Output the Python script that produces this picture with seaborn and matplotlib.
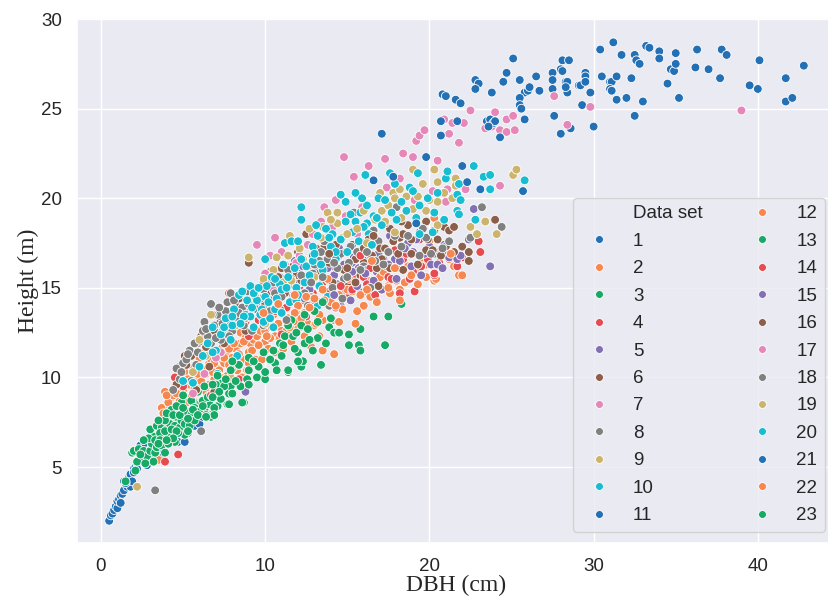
import pandas as pd
import matplotlib
matplotlib.use("Agg")
import matplotlib.pyplot as plt
import seaborn as sns
from matplotlib.lines import Line2D

# -------------------------------
# Data: (DBH cm, Height m) per data set
# -------------------------------
set01 = [(0.5, 2.0), (0.6, 2.3), (0.7, 2.4), (0.8, 2.6), (0.9, 2.8), (1.0, 2.7), (1.0, 3.1), (1.1, 3.2),
         (1.2, 3.4), (1.3, 3.5), (1.4, 3.7), (1.4, 4.2), (1.6, 3.9), (1.7, 4.4), (1.8, 3.9), (1.8, 4.6),
         (1.9, 4.2), (2.0, 4.9), (2.1, 5.0), (2.2, 5.2), (2.3, 5.4), (2.4, 5.6), (2.4, 6.2), (2.5, 5.5),
         (2.6, 6.0), (2.7, 6.3), (2.8, 5.1), (2.9, 5.9), (3.0, 5.4), (3.2, 5.4), (3.3, 6.6), (3.5, 5.8),
         (3.7, 5.7), (3.9, 6.6), (4.2, 6.4), (4.5, 6.6), (4.7, 6.4), (5.1, 6.4), (5.3, 6.9), (5.7, 7.3),
         (6.0, 7.4), (6.2, 7.8), (1.5, 4.1), (1.2, 3.0), (2.0, 4.7), (2.2, 4.9), (3.1, 6.2), (3.4, 5.9)]
set02 = [(3.5, 5.4), (3.7, 8.3), (3.9, 9.2), (4.2, 8.4), (4.0, 7.6), (4.3, 8.9), (4.5, 8.0), (4.7, 9.5),
         (4.8, 8.7), (5.0, 9.3), (5.1, 10.3), (5.2, 8.6), (5.4, 9.6), (5.5, 9.0), (5.6, 10.1), (5.8, 9.9),
         (5.8, 8.6), (6.0, 11.1), (6.0, 9.4), (6.2, 10.5), (6.4, 10.2), (6.4, 9.2), (6.6, 10.8), (6.7, 11.0),
         (6.9, 9.9), (7.0, 10.6), (7.2, 10.4), (7.3, 11.0), (7.4, 11.7), (7.6, 11.4), (7.7, 10.1), (7.9, 12.0),
         (8.0, 11.1), (8.2, 11.6), (8.2, 10.8), (8.3, 10.4), (8.5, 11.9), (8.5, 12.5), (8.7, 11.0), (8.8, 12.2),
         (9.0, 12.6), (9.0, 11.4), (9.1, 11.9), (9.3, 12.1), (9.4, 12.5), (9.4, 11.0), (9.5, 12.3), (9.7, 12.6),
         (10.0, 12.6), (10.0, 12.0), (10.2, 11.6), (10.4, 12.8), (10.6, 12.3), (10.6, 11.4), (10.8, 13.0),
         (11.0, 12.6), (11.3, 12.6), (11.4, 13.3), (11.6, 12.0), (11.9, 13.1), (12.1, 13.5), (12.4, 12.3),
         (12.9, 13.8), (13.2, 13.2), (13.3, 12.3), (13.5, 13.2), (14.1, 13.2), (14.2, 11.3), (13.5, 11.5),
         (12.8, 11.7), (7.0, 9.1), (6.6, 9.6), (5.3, 8.1), (4.6, 7.7), (8.6, 10.0), (9.8, 11.0), (11.1, 11.6),
         (7.5, 10.8), (8.9, 10.4), (10.3, 12.2), (6.3, 11.4), (5.6, 10.5), (9.9, 13.2), (10.5, 13.5), (7.8, 11.6),
         (3.8, 8.0), (4.1, 8.6), (4.4, 9.0), (4.0, 9.0), (4.6, 9.1), (4.9, 9.8), (5.3, 9.9), (5.7, 9.4),
         (6.1, 9.8), (6.5, 10.5), (6.8, 10.3), (7.1, 11.2), (7.5, 11.1), (7.8, 10.7), (8.1, 11.9), (8.4, 11.3),
         (8.7, 12.0), (9.2, 11.5), (9.6, 11.8), (10.1, 12.3), (10.9, 12.2), (11.5, 12.8), (12.0, 12.7),
         (12.6, 13.0), (13.0, 12.9), (5.9, 10.2), (6.9, 10.8), (7.3, 10.0), (8.0, 10.5), (9.0, 10.8)]
set03 = [(1.5, 4.2), (1.9, 5.8), (2.1, 4.8), (2.2, 5.3), (2.0, 5.9), (2.3, 6.0), (2.6, 5.9), (2.8, 5.6),
         (3.0, 5.9), (3.3, 5.8), (3.1, 6.3), (3.4, 6.1), (3.7, 6.2), (3.9, 5.8), (3.8, 6.7), (3.2, 6.7),
         (3.0, 7.1), (3.4, 7.3), (3.7, 7.2), (4.0, 7.1), (4.2, 6.8), (4.5, 6.4), (4.1, 6.3), (4.2, 7.4),
         (4.5, 7.3), (4.8, 7.2), (5.1, 6.8), (4.6, 7.8), (4.9, 7.6), (5.1, 7.4), (5.4, 7.3), (5.2, 8.1),
         (5.5, 7.9), (5.7, 7.6), (5.8, 8.5), (6.1, 8.6), (6.3, 8.2), (6.6, 8.5), (6.7, 7.9), (4.9, 8.6),
         (4.3, 8.2), (3.9, 7.6), (3.5, 7.6), (2.9, 6.6), (2.6, 6.5), (2.4, 5.7), (5.0, 9.0), (5.5, 8.7),
         (5.7, 8.3), (6.0, 8.1), (6.2, 8.7), (6.4, 7.9), (6.7, 7.8), (6.6, 9.0), (7.1, 8.4), (7.4, 9.7),
         (7.7, 8.5), (7.8, 9.1), (7.9, 9.5), (4.0, 8.0), (4.4, 7.9), (3.6, 6.9), (4.7, 6.9), (5.3, 7.0),
         (3.2, 5.3), (2.7, 5.2), (5.9, 9.2), (6.3, 9.5), (4.6, 8.4),
         (3.3, 6.5), (3.6, 6.5), (3.9, 7.0), (4.3, 7.1), (4.6, 7.0), (4.8, 7.9), (5.0, 8.3), (5.3, 7.7),
         (5.6, 8.2), (5.9, 7.9), (6.2, 8.4), (6.5, 8.9), (6.9, 8.3), (7.3, 8.8), (7.0, 9.6), (4.4, 6.6),
         (3.5, 6.3), (4.0, 6.5)]
set04 = [(3.9, 5.3), (4.7, 5.7), (4.5, 10.0), (7.8, 14.7), (8.4, 9.9), (9.9, 15.3), (10.2, 15.2), (10.6, 13.7),
         (11.0, 12.4), (12.1, 15.1), (12.5, 13.4), (13.3, 14.2), (13.9, 14.8), (14.3, 13.9), (15.0, 14.5),
         (6.7, 9.0), (5.0, 9.5), (9.0, 12.3), (11.6, 14.3), (8.8, 13.1),
         (10.5, 14.4), (11.3, 13.9), (12.3, 14.3), (12.9, 14.7), (13.5, 15.3), (14.1, 15.6), (14.7, 14.8),
         (15.5, 15.6), (16.1, 14.8), (9.6, 13.2)]
set05 = [(8.8, 9.2), (10.1, 14.6), (10.6, 15.9), (10.9, 15.6), (11.3, 14.9), (11.6, 15.2), (12.0, 15.8),
         (12.3, 16.2), (12.7, 14.9), (13.2, 16.0), (13.6, 16.5), (14.1, 16.2), (14.4, 15.2), (14.6, 14.0),
         (14.8, 16.3), (14.5, 17.2), (15.0, 15.7), (15.4, 16.7), (15.9, 17.5), (16.2, 15.1), (16.8, 15.9),
         (17.2, 16.6), (12.4, 14.4), (13.9, 15.4), (11.8, 16.5), (15.7, 14.8), (9.7, 14.1), (10.8, 14.2),
         (15.2, 14.3), (13.1, 17.0),
         (11.0, 15.0), (11.5, 15.8), (12.1, 15.3), (12.8, 15.5), (13.4, 15.7), (13.8, 16.1), (14.2, 15.7),
         (14.9, 15.1), (15.3, 16.4), (15.7, 16.1), (16.1, 16.5), (16.6, 16.2), (17.0, 17.3), (12.9, 14.3),
         (11.7, 14.6)]
set06 = [(4.6, 9.6), (5.1, 11.2), (5.2, 10.7), (5.5, 11.2), (5.8, 9.3), (6.1, 12.3), (6.4, 11.7), (6.9, 9.2),
         (6.9, 12.6), (7.2, 13.0), (7.5, 11.9), (7.9, 13.6), (8.2, 14.0), (8.5, 13.1), (9.0, 14.5), (9.0, 16.4),
         (9.4, 14.9), (9.8, 13.4), (10.3, 15.9), (10.8, 15.6), (11.2, 14.7), (11.7, 16.2), (12.2, 15.4),
         (12.5, 18.0), (12.9, 16.8), (13.3, 15.8), (13.6, 17.3), (14.1, 15.3), (14.5, 16.8), (14.9, 17.0),
         (15.1, 15.2), (15.5, 16.6), (16.0, 16.4), (6.6, 10.6), (7.6, 12.6), (8.8, 12.6), (10.1, 14.7),
         (11.0, 16.1), (12.0, 17.0),
         (4.8, 10.6), (5.4, 11.5), (5.9, 11.9), (6.3, 12.2), (6.8, 12.1), (7.3, 13.4), (7.8, 13.1),
         (8.4, 14.4), (8.9, 13.9), (9.5, 14.2), (10.0, 14.1), (10.6, 14.9), (11.4, 15.3), (11.9, 15.7),
         (12.6, 16.2), (13.1, 17.2), (13.9, 16.4), (14.3, 17.4), (14.8, 16.0), (15.3, 17.4), (15.8, 15.7),
         (16.3, 16.0)]
set07 = [(5.6, 9.1), (6.3, 10.2), (7.3, 11.4), (7.8, 12.3), (8.1, 14.4), (8.9, 13.7), (9.5, 17.4), (10.0, 15.8),
         (10.6, 17.8), (11.2, 16.3), (11.6, 15.2), (12.1, 16.8), (12.6, 17.4), (13.4, 18.7), (13.9, 17.9),
         (14.3, 19.9), (14.8, 22.3), (14.9, 19.0), (15.4, 21.2), (15.6, 18.0), (16.3, 21.8), (9.1, 14.6),
         (10.5, 14.9), (11.9, 16.4),
         (12.9, 18.0), (13.6, 19.5), (10.3, 16.8), (11.0, 17.0), (8.4, 13.2), (7.0, 11.1), (15.9, 19.5),
         (14.1, 18.4)]
set08 = [(3.3, 3.7), (4.4, 9.3), (4.6, 10.5), (4.8, 9.9), (5.0, 10.8), (5.2, 11.0), (5.4, 11.5), (5.8, 10.7),
         (5.9, 11.4), (6.0, 12.0), (6.1, 7.0), (6.3, 13.1), (6.5, 12.3), (6.7, 14.1), (6.7, 11.9), (6.9, 12.9),
         (7.1, 13.5), (7.3, 12.1), (7.4, 13.0), (7.6, 13.7), (7.9, 14.7), (8.0, 12.6), (8.3, 13.2), (8.6, 13.9),
         (9.0, 14.1), (9.2, 12.6), (9.5, 13.8), (9.7, 14.4), (9.9, 12.9), (10.3, 13.7), (10.6, 14.7),
         (10.9, 13.8), (11.4, 16.0), (11.8, 14.6), (12.2, 15.7), (12.6, 14.0), (13.0, 16.3), (13.4, 17.0),
         (13.6, 17.6), (13.9, 14.0), (14.1, 15.0), (14.4, 16.1), (14.8, 15.5), (15.2, 17.3), (15.4, 19.2),
         (16.0, 16.2), (16.6, 18.2), (16.9, 17.6), (6.2, 12.6), (7.8, 12.3), (8.7, 12.9), (5.5, 9.8), (7.0, 12.2),
         (4.9, 10.3), (5.3, 11.3), (5.7, 11.9), (6.4, 12.7), (6.8, 13.5), (7.2, 13.9), (7.7, 14.2), (8.1, 14.3),
         (8.4, 13.6), (8.9, 14.8), (9.3, 15.0), (9.9, 14.9), (10.5, 15.3), (11.0, 14.5), (11.6, 15.5),
         (12.4, 14.7), (12.9, 15.8), (13.3, 16.5), (13.8, 16.6), (14.6, 16.9), (15.1, 16.4), (15.6, 17.0)]
set09 = [(2.2, 3.9), (6.0, 12.1), (6.7, 13.5), (7.9, 10.0), (9.0, 16.7), (9.4, 14.5), (10.0, 13.0), (11.1, 15.3),
         (11.5, 17.9), (11.6, 15.4), (12.3, 16.6), (12.8, 14.5), (13.4, 17.8), (13.8, 19.2), (14.4, 19.2),
         (14.4, 18.6), (14.7, 17.8), (13.0, 15.6), (10.5, 16.0), (8.2, 12.9), (5.6, 10.3),
         (9.9, 15.5), (11.4, 16.8), (12.1, 17.2), (12.7, 18.3), (13.5, 18.4), (14.0, 18.8), (10.7, 16.7),
         (8.8, 13.3), (7.4, 12.6), (6.4, 11.2)]
set10 = [(5.0, 9.8), (5.6, 9.7), (6.0, 10.6), (6.2, 11.2), (6.5, 11.9), (6.8, 12.8), (7.3, 12.4), (7.5, 12.8),
         (7.0, 11.5), (7.6, 13.3), (8.1, 13.8), (8.4, 14.6), (8.6, 14.8), (8.8, 13.5), (9.1, 13.4), (9.1, 15.1),
         (9.7, 13.5), (9.8, 13.8), (10.0, 14.5), (10.1, 15.1), (10.0, 16.6), (10.6, 13.8), (10.9, 15.2),
         (11.2, 17.5), (11.5, 14.2), (11.6, 17.6), (12.0, 17.6), (12.2, 18.8), (12.2, 19.5), (12.4, 15.3),
         (12.5, 16.2), (12.9, 17.3), (13.1, 18.5), (13.2, 14.0), (13.2, 17.9), (13.7, 18.3), (14.0, 17.3),
         (14.1, 18.0), (13.8, 14.5), (14.6, 20.2), (14.9, 19.8), (14.9, 18.7), (15.2, 19.1), (15.5, 18.7),
         (15.8, 19.2), (16.1, 21.3), (16.2, 18.6), (16.3, 18.0), (16.4, 15.2), (16.6, 19.0), (16.2, 16.0),
         (8.0, 12.9), (8.7, 13.4), (9.5, 14.3), (10.4, 15.6), (11.0, 14.9), (11.8, 16.1), (10.5, 12.8),
         (9.3, 12.8), (7.9, 12.1), (6.8, 11.4), (11.4, 15.6), (12.9, 16.5), (13.5, 16.0), (14.3, 16.6),
         (15.0, 17.0), (13.3, 15.1), (11.9, 14.3), (9.9, 13.1), (10.7, 14.4), (7.1, 10.2), (8.3, 11.2),
         (8.0, 13.4), (8.5, 13.0), (8.9, 14.3), (9.3, 14.7), (9.6, 15.0), (10.2, 14.2), (10.6, 15.5),
         (11.1, 16.3), (11.3, 15.0), (11.9, 15.0), (12.2, 16.6), (12.7, 15.7), (13.0, 16.9), (13.4, 16.3),
         (13.9, 17.8), (14.3, 17.0), (14.6, 17.7), (15.3, 18.1), (15.7, 17.6), (16.0, 18.4), (9.2, 13.9),
         (10.3, 13.3), (11.0, 13.6), (12.0, 14.6)]
set11 = [(20.8, 25.8), (21.0, 25.7), (21.6, 25.5), (21.9, 25.3), (22.8, 26.6), (23.0, 26.4), (22.8, 26.1),
         (23.8, 25.9), (24.5, 26.5), (24.7, 27.0), (25.1, 27.8), (25.5, 26.6), (25.8, 25.9), (26.0, 26.0),
         (26.1, 26.2), (26.5, 26.8), (26.7, 26.0), (25.5, 25.6), (25.5, 25.2), (25.6, 25.0), (25.8, 24.4),
         (27.5, 27.0), (27.5, 26.6), (27.5, 26.1), (28.1, 27.7), (28.5, 27.7), (28.0, 27.2), (28.1, 27.1),
         (28.3, 26.5), (28.4, 26.5), (28.4, 25.9), (28.3, 26.2), (27.6, 24.6), (28.0, 23.6), (28.6, 23.9),
         (29.1, 26.3), (29.2, 26.3), (29.5, 27.0), (29.5, 26.8), (29.5, 26.5), (29.8, 25.9), (29.3, 25.2),
         (30.0, 24.0), (30.4, 28.3), (30.5, 26.8), (31.2, 28.7), (31.0, 26.5), (31.1, 26.5), (31.4, 26.8),
         (31.0, 26.1), (31.1, 26.0), (31.4, 25.5), (31.7, 28.0), (32.0, 25.6), (32.3, 26.7), (32.5, 28.0),
         (32.6, 27.7), (32.8, 27.5), (32.5, 24.6), (33.0, 25.4), (33.2, 28.5), (33.4, 28.4), (34.0, 28.2),
         (34.0, 27.8), (34.5, 26.4), (34.7, 27.2), (34.9, 27.1), (35.0, 27.5), (35.0, 28.1), (35.2, 25.6),
         (36.3, 28.3), (36.2, 27.3), (37.0, 27.2), (37.7, 26.7), (37.8, 28.3), (38.1, 28.0), (39.5, 26.3),
         (40.0, 26.1), (40.1, 27.7), (41.7, 26.7), (41.7, 25.4), (42.1, 25.6), (42.8, 27.4)]
set12 = [(12.0, 14.0), (12.5, 14.5), (13.0, 14.4), (13.5, 14.9), (13.8, 15.5), (14.0, 14.2), (14.5, 14.6),
         (15.0, 14.9), (15.3, 14.8), (15.5, 15.3), (16.0, 14.0), (16.4, 14.5), (16.8, 14.2), (17.0, 15.6),
         (17.5, 15.1), (18.0, 15.4), (18.2, 14.9), (18.2, 14.4), (18.7, 16.2), (19.0, 16.9), (19.5, 16.4),
         (20.0, 17.6), (20.3, 18.9), (20.3, 15.4), (20.4, 15.5), (20.6, 17.0), (21.2, 16.6), (21.5, 16.2),
         (21.8, 15.7), (22.0, 15.7), (12.2, 13.3), (13.3, 13.5), (14.7, 13.8), (15.6, 13.7), (17.2, 15.9),
         (19.8, 16.3),
         (12.4, 13.6), (13.6, 14.3), (14.3, 14.0), (15.1, 15.5), (15.8, 14.6), (16.3, 15.4), (16.9, 15.1),
         (17.6, 14.7), (18.5, 15.3), (19.2, 15.9), (19.8, 15.6), (11.8, 13.6), (13.1, 13.0)]
set13 = [(9.0, 11.1), (8.4, 10.7), (9.5, 10.0), (10.0, 10.2), (11.4, 10.3), (11.4, 10.4), (10.5, 11.5),
         (10.9, 11.9), (11.2, 12.3), (11.6, 13.2), (11.7, 12.3), (11.9, 12.5), (12.2, 12.9), (12.2, 10.6),
         (12.3, 10.9), (12.4, 11.9), (12.4, 13.5), (12.9, 11.5), (13.0, 13.7), (13.2, 12.2), (13.4, 10.7),
         (13.5, 14.2), (13.9, 12.8), (14.2, 12.5), (14.5, 12.5), (15.1, 11.8), (15.1, 12.4), (15.7, 11.8),
         (15.8, 11.5), (15.8, 12.7), (16.6, 13.4), (17.3, 11.8), (17.5, 13.4), (18.3, 14.1), (12.7, 12.1),
         (9.9, 11.4), (11.0, 11.2), (10.6, 10.8), (12.0, 11.4), (13.7, 11.9),
         (10.3, 11.0), (11.1, 11.8), (11.8, 11.6), (12.6, 12.7), (13.2, 13.1), (14.0, 13.3), (12.0, 10.9),
         (10.7, 10.4), (9.6, 10.6), (11.4, 12.9)]
set14 = [(15.3, 14.9), (16.0, 15.6), (16.4, 16.1), (17.0, 16.7), (17.5, 15.6), (17.7, 15.5), (18.2, 14.7),
         (18.4, 16.6), (19.1, 14.8), (19.4, 17.7), (19.5, 16.2), (20.3, 15.7), (20.3, 15.8), (21.1, 16.9),
         (21.7, 16.2), (22.0, 16.7), (22.4, 17.0), (23.0, 17.6), (23.1, 17.0), (16.7, 14.6), (18.8, 15.5),
         (15.8, 16.8), (14.6, 15.1),
         (16.2, 15.2), (16.9, 16.3), (17.4, 16.2), (18.0, 16.1), (18.6, 16.9), (19.0, 15.9), (19.9, 16.6),
         (20.6, 16.4), (17.9, 17.1)]
set15 = [(17.6, 17.9), (17.9, 16.6), (18.7, 17.5), (18.9, 16.2), (19.5, 15.7), (20.1, 16.3), (20.5, 16.3),
         (20.8, 16.1), (21.2, 16.7), (21.7, 16.6), (21.9, 16.8), (22.7, 19.4), (23.7, 16.2), (16.6, 15.4),
         (17.1, 14.9), (19.2, 17.7), (18.0, 15.5), (20.0, 17.3), (16.4, 16.8), (15.3, 15.9), (14.2, 14.6),
         (22.4, 17.7), (20.9, 17.4),
         (16.9, 16.9), (17.5, 16.3), (18.2, 16.5), (18.5, 17.2), (19.0, 17.0), (19.7, 16.9), (20.3, 16.9),
         (16.1, 15.8), (15.6, 15.1)]
set16 = [(15.5, 15.3), (16.0, 17.2), (16.8, 16.1), (16.9, 15.1), (17.0, 17.2), (17.3, 17.2), (17.6, 16.1),
         (18.2, 17.8), (18.4, 18.0), (18.4, 16.0), (18.7, 18.5), (18.9, 16.9), (19.3, 16.3), (19.8, 17.1),
         (20.2, 17.1), (20.5, 17.7), (20.9, 18.4), (21.2, 18.2), (21.5, 18.4), (22.0, 17.3), (22.4, 17.0),
         (22.4, 16.5), (23.2, 19.5), (24.0, 18.8), (18.6, 19.3), (17.6, 18.3), (19.8, 18.7), (16.3, 17.7),
         (15.0, 16.1), (13.9, 16.9), (20.7, 16.8), (21.5, 17.0),
         (16.5, 16.8), (17.1, 16.6), (17.8, 17.6), (18.1, 16.9), (18.9, 17.7), (19.4, 18.1), (19.9, 17.7),
         (20.3, 18.2), (21.0, 17.3), (16.6, 17.9), (17.3, 18.6), (18.3, 18.7)]
set17 = [(17.3, 22.2), (17.4, 20.6), (18.2, 21.1), (18.4, 22.5), (19.0, 22.3), (19.1, 19.9), (19.2, 23.2),
         (19.4, 23.5), (19.7, 23.8), (20.2, 20.4), (20.5, 22.1), (20.7, 20.3), (20.9, 24.4), (21.0, 19.8),
         (21.1, 20.5), (21.2, 23.6), (21.4, 24.2), (21.7, 19.3), (21.8, 23.1), (22.1, 24.2), (22.2, 20.5),
         (22.5, 24.9), (23.4, 23.9), (23.8, 24.0), (24.0, 24.8), (24.3, 23.8), (24.3, 20.7), (24.7, 23.7),
         (24.7, 24.4), (25.1, 24.6), (25.2, 23.8), (27.6, 25.7), (28.4, 24.1), (29.8, 25.1), (39.0, 24.9)]
set18 = [(17.2, 16.3), (18.0, 19.5), (18.3, 17.3), (19.8, 17.8), (23.2, 19.5), (24.4, 18.4), (20.8, 17.2),
         (17.5, 17.0), (12.8, 15.3), (11.3, 13.2), (15.8, 16.0), (13.5, 15.6), (16.4, 15.0), (19.4, 16.8),
         (21.2, 17.6), (22.5, 17.8), (14.7, 14.4),
         (16.7, 16.5), (17.9, 17.9), (18.7, 17.9), (19.6, 18.3), (20.1, 16.9), (16.2, 17.0), (14.2, 16.4),
         (15.0, 15.6)]
set19 = [(17.1, 19.3), (17.3, 18.7), (17.8, 20.3), (17.9, 18.1), (17.9, 20.0), (18.2, 20.5), (18.6, 19.3),
         (19.0, 21.6), (19.0, 19.4), (19.6, 20.8), (19.8, 19.3), (20.3, 21.6), (20.5, 20.9), (20.5, 18.5),
         (20.5, 19.8), (21.4, 20.0), (21.6, 21.1), (21.6, 20.7), (23.4, 18.7), (24.1, 18.0), (25.1, 21.3),
         (25.3, 21.6), (18.6, 20.1), (16.2, 17.5), (15.6, 18.3), (22.5, 18.4),
         (16.7, 18.8), (17.5, 19.6), (18.3, 18.9), (19.3, 20.1), (20.0, 19.9), (20.9, 20.3), (15.0, 18.0),
         (16.0, 19.3), (17.0, 20.3), (22.9, 18.0)]
set20 = [(16.9, 20.0), (17.1, 18.5), (17.6, 21.4), (18.0, 18.8), (18.3, 19.8), (18.8, 20.6), (19.3, 21.4),
         (19.4, 19.6), (19.4, 18.0), (19.2, 18.9), (20.9, 18.8), (21.0, 21.1), (21.1, 21.5), (21.7, 20.2),
         (21.7, 19.3), (21.8, 20.8), (21.8, 19.1), (21.9, 19.9), (22.7, 21.8), (22.8, 18.8), (23.3, 21.2),
         (23.7, 21.3), (23.7, 20.5), (25.8, 21.0), (15.5, 20.3), (14.6, 20.2), (16.5, 17.4), (20.2, 18.1),
         (16.2, 19.6), (16.8, 18.9), (17.3, 19.9), (17.7, 19.2), (18.6, 19.3), (19.0, 20.4), (19.9, 20.0),
         (20.5, 20.3), (20.3, 19.2), (15.9, 20.0), (17.9, 20.8)]
set21 = [(17.1, 23.6), (17.8, 21.2), (16.6, 21.0), (19.8, 22.3), (22.0, 21.8), (22.3, 20.9), (23.1, 20.5),
         (25.7, 20.4), (19.2, 18.6), (20.7, 23.5), (20.7, 24.3), (21.7, 24.3), (24.3, 23.4), (23.5, 24.3),
         (23.7, 24.4), (23.9, 24.2), (24.0, 24.3), (23.6, 24.0)]
set22 = [(16.8, 14.2), (17.5, 15.0), (18.2, 14.3), (18.9, 15.7), (14.5, 13.1), (15.5, 13.0), (16.2, 14.9),
         (19.3, 15.2), (21.3, 16.9), (17.9, 16.1), (16.5, 16.5), (12.7, 13.9), (11.8, 14.6), (10.8, 14.1),
         (9.9, 13.6)]
set23 = [(8.5, 9.5), (8.7, 8.6), (9.0, 10.4), (8.9, 9.9), (7.5, 9.5), (8.0, 9.1), (8.4, 10.7), (7.9, 10.4),
         (9.5, 10.0), (10.0, 9.9), (10.0, 10.3), (8.6, 8.6), (7.8, 8.5), (6.9, 7.9), (6.4, 7.8), (7.2, 9.2),
         (6.8, 8.9), (7.6, 9.9), (8.2, 9.8), (8.0, 10.9), (7.1, 10.1), (6.8, 9.6), (9.3, 10.9), (9.0, 9.6)]

all_sets = [set01, set02, set03, set04, set05, set06, set07, set08, set09, set10, set11, set12,
            set13, set14, set15, set16, set17, set18, set19, set20, set21, set22, set23]
set_names = [str(i) for i in range(1, 24)]

base_colors = ["#2470b4", "#f5874f", "#16aa66", "#e54b50", "#8270b4",
               "#8c5f4b", "#e687b9", "#808080", "#cdb46e", "#17bed2"]
palette = [base_colors[i % 10] for i in range(23)]

rows = []
for name, pts in zip(set_names, all_sets):
    for d, h in pts:
        rows.append({"DBH": d, "Height": h, "Data set": name})
df = pd.DataFrame(rows)

# -------------------------------
# Plot
# -------------------------------
sns.set_theme(style="darkgrid")
plt.rcParams["font.family"] = ["Liberation Sans", "DejaVu Sans"]

fig = plt.figure(figsize=(8.29, 5.99), dpi=100)
ax = fig.add_axes([77 / 829, 56 / 599, 759 / 829, 525 / 599])

sns.scatterplot(data=df, x="DBH", y="Height", hue="Data set", hue_order=set_names,
                palette=palette, s=40, edgecolor="white", linewidth=0.6, ax=ax)

ax.set_xlim(-1.46, 44.76)
ax.set_ylim(0.76, 30.06)
ax.set_xticks([0, 10, 20, 30, 40])
ax.set_yticks([5, 10, 15, 20, 25, 30])
ax.tick_params(labelsize=13.5, pad=5)

serif = ["Liberation Serif", "DejaVu Serif"]
ax.set_xlabel("DBH (cm)", fontsize=17, family=serif, labelpad=0)
ax.set_ylabel("Height (m)", fontsize=17, family=serif, labelpad=1)

# legend with the hue name as a marker-less first entry
old = ax.get_legend()
handles = list(old.legend_handles)
labels = [t.get_text() for t in old.get_texts()]
old.remove()
blank = Line2D([], [], linestyle="none", marker="")
ax.legend([blank] + handles, ["Data set"] + labels, ncol=2, loc="lower right",
          fontsize=13.5, labelspacing=0.55, columnspacing=2.2, handletextpad=0.8,
          borderaxespad=0.6, markerscale=0.9)

fig.savefig("out.png", dpi=100)
